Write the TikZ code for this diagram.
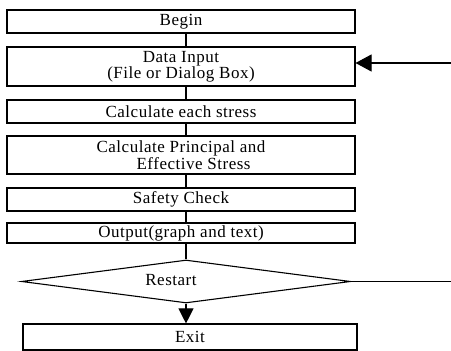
\documentclass[tikz,border=0pt]{standalone}
\usepackage{fontspec}
\setmainfont{Liberation Serif}[LetterSpace=3]
\usetikzlibrary{shapes.geometric,arrows.meta}
\tikzset{
  flowbox/.style={draw, line width=1.1pt, rectangle, inner sep=0pt, font=\fontsize{17}{14}\selectfont},
  flowtext/.style={inner sep=0pt, font=\fontsize{17}{14}\selectfont},
  conn/.style={line width=1.1pt},
  bigarrow/.style={line width=1.1pt, -{Triangle[length=16pt,width=17pt]}},
  exitarrow/.style={line width=1.1pt, -{Triangle[length=15pt,width=15pt]}}
}
\begin{document}
\begin{tikzpicture}[x=1pt,y=1pt]
\useasboundingbox[fill=white] (0,0) rectangle (451,351);
\node[flowbox, minimum width=348pt, minimum height=23pt] (begin) at (181,329.5) {Begin};
\node[flowbox, minimum width=348pt, minimum height=39pt, align=center] (input) at (181,284.5) {Data Input\\(File or Dialog Box)};
\node[flowbox, minimum width=348pt, minimum height=23pt] (calc) at (181,239.5) {Calculate each stress};
\node[flowbox, minimum width=348pt, minimum height=38pt, align=left] (princ) at (181,196) {Calculate Principal and\\\hspace*{40pt}Effective Stress};
\node[flowbox, minimum width=348pt, minimum height=23pt] (safety) at (181,151.5) {Safety Check};
\node[flowbox, minimum width=348pt, minimum height=20pt] (output) at (181,118) {Output(graph and text)};
\node[diamond, draw, line width=1.1pt, inner sep=0pt, minimum width=329pt, minimum height=43pt] (restart) at (186,69.5) {};
\node[flowtext] (restartlbl) at (171,71) {Restart};
\node[flowbox, minimum width=334pt, minimum height=26pt] (exit) at (190,14) {Exit};
\coordinate (cx) at (186,0);
\coordinate (loopout) at (451,69.5);
\coordinate (loopin) at (451,288);
\draw[conn] (begin.south -| cx) -- (input.north -| cx);
\draw[conn] (input.south -| cx) -- (calc.north -| cx);
\draw[conn] (calc.south -| cx) -- (princ.north -| cx);
\draw[conn] (princ.south -| cx) -- (safety.north -| cx);
\draw[conn] (safety.south -| cx) -- (output.north -| cx);
\draw[conn] (output.south -| cx) -- (restart.north);
\draw[exitarrow] (restart.south) -- (exit.north -| restart.south);
\draw[conn] (restart.east) -- (loopout);
\draw[bigarrow] (loopin) -- (loopin -| input.east);
\end{tikzpicture}
\end{document}
